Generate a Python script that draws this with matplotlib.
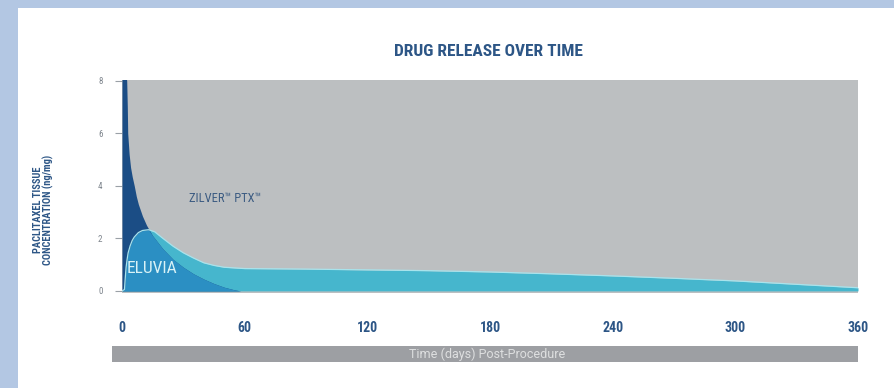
import matplotlib
matplotlib.use("Agg")
import matplotlib.pyplot as plt
import numpy as np
from matplotlib.patches import Rectangle
from matplotlib import font_manager

# ---- data ----
zilver_days = [0, 2.3, 2.6, 2.8, 3.5, 4.2, 5, 6, 7, 8, 10, 12, 15, 18, 20, 25, 30, 35, 40, 45, 50, 55, 58, 360]
zilver_conc = [9.5, 8.0, 7.0, 6.0, 5.2, 4.7, 4.35, 4.0, 3.6, 3.3, 2.85, 2.5, 2.1, 1.8, 1.6, 1.2, 0.9, 0.65, 0.45, 0.28, 0.14, 0.04, 0.0, 0.0]

eluvia_days = [0, 1.2, 1.6, 2, 2.5, 3, 4, 5, 6, 8, 10, 13, 16, 20, 25, 30, 35, 40, 45, 50, 60, 90, 120, 150, 180, 210, 240, 270, 300, 330, 360]
eluvia_conc = [0, 0.05, 0.5, 0.9, 1.2, 1.45, 1.72, 1.92, 2.05, 2.22, 2.3, 2.33, 2.25, 2.0, 1.7, 1.45, 1.25, 1.07, 0.97, 0.9, 0.85, 0.83, 0.8, 0.77, 0.72, 0.65, 0.57, 0.48, 0.38, 0.25, 0.12]

x_ticks = [0, 60, 120, 180, 240, 300, 360]
y_ticks = [0, 2, 4, 6, 8]

title = "DRUG RELEASE OVER TIME"
ylabel_1 = "PACLITAXEL TISSUE"
ylabel_2 = "CONCENTRATION (ng/mg)"
xlabel = "Time (days) Post-Procedure"
zilver_label = "ZILVER\u2122 PTX\u2122"
eluvia_label = "ELUVIA"

# ---- styles ----
BORDER = "#b3c7e3"
GREY = "#bcbfc1"
DARK = "#1b4d85"
MID = "#2b8fc3"
TEAL = "#46b6cd"
TXT_BLUE = "#2d5686"

names = {f.name for f in font_manager.fontManager.ttflist}
if "Roboto Condensed" in names:
    COND = dict(family=["Roboto Condensed", "DejaVu Sans"])
elif "Liberation Sans Narrow" in names:
    COND = dict(family=["Liberation Sans Narrow", "DejaVu Sans"])
else:
    COND = dict(family=["DejaVu Sans"], fontstretch="condensed")
REG = dict(family=["Roboto", "DejaVu Sans"])

W, H = 895, 388
fig = plt.figure(figsize=(W / 100, H / 100), dpi=100)
fig.patch.set_facecolor(BORDER)
fig.add_artist(Rectangle((18 / W, 0), 1 - 18 / W, 1 - 8 / H, transform=fig.transFigure,
                         facecolor="white", edgecolor="none", zorder=0))

left, right = 122 / W, 858 / W
bottom, top = 1 - 293 / H, 1 - 80 / H
ax = fig.add_axes([left, bottom, right - left, top - bottom])
ax.set_facecolor(GREY)

d_all = np.union1d(np.array(zilver_days, float), np.array(eluvia_days, float))
z_all = np.interp(d_all, zilver_days, zilver_conc)
e_all = np.interp(d_all, eluvia_days, eluvia_conc)

ax.fill_between(eluvia_days, 0, eluvia_conc, color=TEAL, lw=0, zorder=2)
ax.fill_between(zilver_days, 0, zilver_conc, color=DARK, lw=0, zorder=3)
ax.fill_between(d_all, 0, np.minimum(z_all, e_all), color=MID, lw=0, zorder=4)
ax.plot(eluvia_days, eluvia_conc, color="#a8e3ec", lw=0.9, zorder=5)

ax.set_xlim(0, 360)
ax.set_ylim(-0.08, 8.03)
for s in ax.spines.values():
    s.set_visible(False)

ax.set_xticks(x_ticks)
ax.set_xticklabels([str(v) for v in x_ticks], fontsize=10,
                   color=TXT_BLUE, fontweight="bold", **COND)
ax.tick_params(axis="x", length=0, pad=20)
ax.set_yticks(y_ticks)
ax.set_yticklabels([str(v) for v in y_ticks], fontsize=6.5, color="#7d848c", **COND)
ax.tick_params(axis="y", length=5, width=0.8, color="#9aa0a6", pad=9)

fig.text(488 / W, 1 - 52 / H, title, ha="center", va="center",
         fontsize=12.5, fontweight="bold", color=TXT_BLUE, **COND)

fig.text(38 / W, 1 - 210 / H, ylabel_1, rotation=90, ha="center", va="center",
         fontsize=7.5, fontweight="bold", color=TXT_BLUE, **COND)
fig.text(48 / W, 1 - 210 / H, ylabel_2, rotation=90, ha="center", va="center",
         fontsize=7.5, fontweight="bold", color=TXT_BLUE, **COND)

ax.text(33, 3.5, zilver_label, fontsize=9, color="#3b5b82",
        ha="left", va="center", zorder=6, **COND)
ax.text(2.5, 0.85, eluvia_label, fontsize=12.5, color="#d9f2f6",
        ha="left", va="center", zorder=6, **COND)

fig.add_artist(Rectangle((112 / W, 1 - 362 / H), (858 - 112) / W, 16 / H,
                         transform=fig.transFigure, facecolor="#9d9fa3",
                         edgecolor="none", zorder=1))
fig.text(487 / W, 1 - 354.5 / H, xlabel, ha="center", va="center",
         fontsize=9, color="#dedfe0", zorder=2, **REG)

fig.savefig("out.png", dpi=100, facecolor=fig.get_facecolor())
